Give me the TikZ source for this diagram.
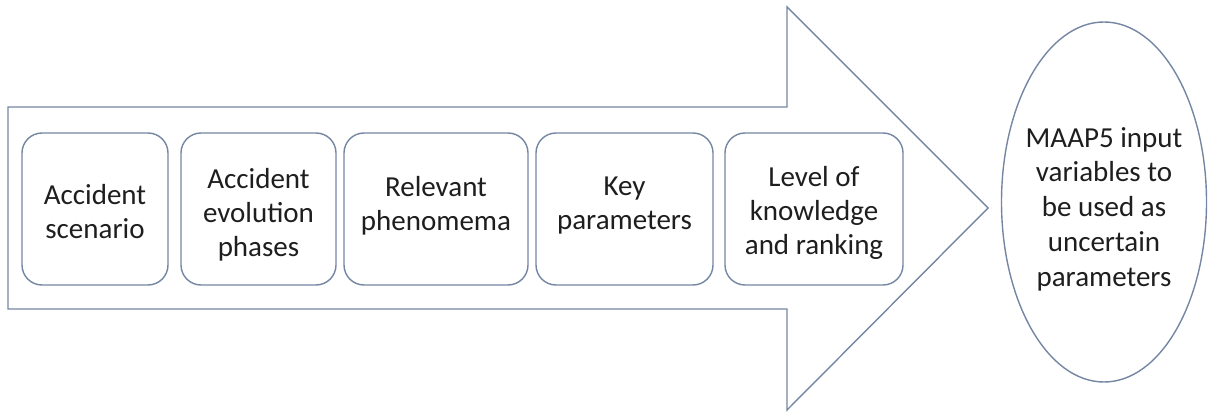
\documentclass[tikz,border=0pt]{standalone}
\usepackage{fontspec}
\setmainfont{Carlito}
\usetikzlibrary{shapes.geometric}
\definecolor{edge}{HTML}{7586A3}
\definecolor{ink}{HTML}{1E1E1E}
\tikzset{
  stagebox/.style={draw=edge, line width=1.4pt, rounded corners=20pt, fill=white,
    inner sep=0pt, minimum height=152pt},
  stagetext/.style={inner sep=0pt, align=center, text=ink,
    font=\fontsize{29}{34}\selectfont},
  goal/.style={draw=edge, line width=1.4pt, ellipse, inner sep=0pt,
    minimum width=205pt, minimum height=360pt},
  goaltext/.style={inner sep=0pt, align=center, text=ink,
    font=\fontsize{29}{34.7}\selectfont},
  bigarrow/.style={draw=edge, line width=1.4pt, fill=white, line join=miter}
}
\begin{document}
\begin{tikzpicture}[x=1pt,y=-1pt]
\useasboundingbox (0,0) rectangle (1210,412);
\draw[bigarrow] (8,107) -- (787,107) -- (787,7) -- (988,208) -- (787,410) -- (787,309) -- (8,309) -- cycle;
\node[stagebox, minimum width=146pt] (s1) at (95,209) {};
\node[stagebox, minimum width=155pt] (s2) at (258.5,209) {};
\node[stagebox, minimum width=184pt] (s3) at (436,209) {};
\node[stagebox, minimum width=177pt] (s4) at (624.5,209) {};
\node[stagebox, minimum width=178pt] (s5) at (814,209) {};
\node[stagetext] (t1) at ([yshift=-3pt]s1.center) {Accident\\scenario};
\node[stagetext] (t2) at ([yshift=-6pt]s2.center) {Accident\\evolution\\phases};
\node[stagetext] (t3) at ([yshift=3pt]s3.center) {Relevant\\phenomema};
\node[stagetext] (t4) at ([yshift=3pt]s4.center) {Key\\parameters};
\node[stagetext] (t5) at ([yshift=-4pt]s5.center) {Level of\\knowledge\\and ranking};
\node[goal] (g) at (1104,202) {};
\node[goaltext] (gt) at ([yshift=-7pt]g.center) {MAAP5 input\\variables to\\be used as\\uncertain\\parameters};
\end{tikzpicture}
\end{document}
